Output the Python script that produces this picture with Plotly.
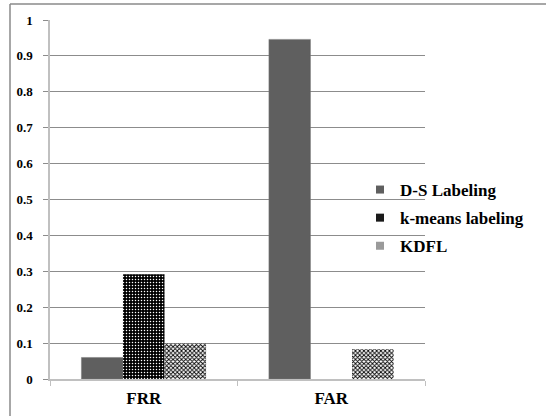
import plotly.graph_objects as go

categories = ["FRR", "FAR"]
ds_labeling = [0.06, 0.946]
kmeans_labeling = [0.292, 0.0]
kdfl = [0.099, 0.083]
y_ticks = [0, 0.1, 0.2, 0.3, 0.4, 0.5, 0.6, 0.7, 0.8, 0.9, 1]
y_tick_text = ["0", "0.1", "0.2", "0.3", "0.4", "0.5", "0.6", "0.7", "0.8", "0.9", "1"]
series_names = ["D-S Labeling", "k-means labeling", "KDFL"]

FONT = "Liberation Serif, Times New Roman, serif"

fig = go.Figure()
fig.add_trace(go.Bar(
    name=series_names[0], x=categories, y=ds_labeling, showlegend=False,
    marker=dict(color="#5f5f5f", line=dict(color="#7a7a7a", width=0.5)),
))
fig.add_trace(go.Bar(
    name=series_names[1], x=categories, y=kmeans_labeling, showlegend=False,
    marker=dict(color="#000000", line=dict(width=0),
                pattern=dict(shape=".", bgcolor="#000000", fgcolor="#ffffff",
                             size=3, solidity=0.2, fillmode="replace")),
))
fig.add_trace(go.Bar(
    name=series_names[2], x=categories, y=kdfl, showlegend=False,
    marker=dict(color="#ffffff", line=dict(width=0),
                pattern=dict(shape="x", bgcolor="#ffffff", fgcolor="#000000",
                             size=3, solidity=0.5, fillmode="replace")),
))

# legend-only entries with small square markers
legend_colors = ["#5f5f5f", "#1a1a1a", "#9a9a9a"]
for i, (nm, col) in enumerate(zip(series_names, legend_colors)):
    fig.add_trace(go.Scatter(
        x=[None], y=[None], mode="markers", name=nm, legendgroup=f"g{i}",
        marker=dict(symbol="square", size=8, color=col),
    ))

# outer frame (top and left edges visible)
fig.add_shape(type="line", xref="paper", yref="paper",
              x0=(10 - 50) / 375, x1=(546 - 50) / 375,
              y0=(379 - 4) / 359, y1=(379 - 4) / 359,
              line=dict(color="#8a8a8a", width=1.5))
fig.add_shape(type="line", xref="paper", yref="paper",
              x0=(10 - 50) / 375, x1=(10 - 50) / 375,
              y0=(379 - 4) / 359, y1=(379 - 420) / 359,
              line=dict(color="#8a8a8a", width=1.5))

fig.update_layout(
    width=546, height=416,
    margin=dict(l=50, r=121, t=20, b=37, autoexpand=False),
    paper_bgcolor="white", plot_bgcolor="white",
    barmode="group", bargap=0.335, bargroupgap=0,
    font=dict(family=FONT, color="#000000", size=13, weight="bold"),
    legend=dict(xref="container", yref="container",
                x=360 / 546, y=1 - 172 / 416, xanchor="left", yanchor="top",
                bgcolor="rgba(0,0,0,0)", font=dict(family=FONT, size=17, weight="bold"),
                traceorder="grouped", tracegroupgap=3, itemwidth=30),
    showlegend=True,
)
fig.update_xaxes(
    showgrid=False, showline=True, linecolor="#c0c0c0", linewidth=1.5,
    ticks="outside", tickson="boundaries", ticklen=5, tickcolor="#c0c0c0",
    tickfont=dict(family=FONT, size=17, weight="bold"), ticklabelstandoff=3,
)
fig.update_yaxes(
    range=[0, 1], tickvals=y_ticks, ticktext=y_tick_text,
    showgrid=True, gridcolor="#8c8c8c", gridwidth=1,
    showline=True, linecolor="#c0c0c0", linewidth=1.5, zeroline=False,
    ticks="outside", ticklen=5, tickcolor="#8c8c8c",
    tickfont=dict(family=FONT, size=13, weight="bold"), ticklabelstandoff=8,
)

fig.write_html("out.html", config={"displayModeBar": False},
               post_script="document.body.style.margin='0';")
